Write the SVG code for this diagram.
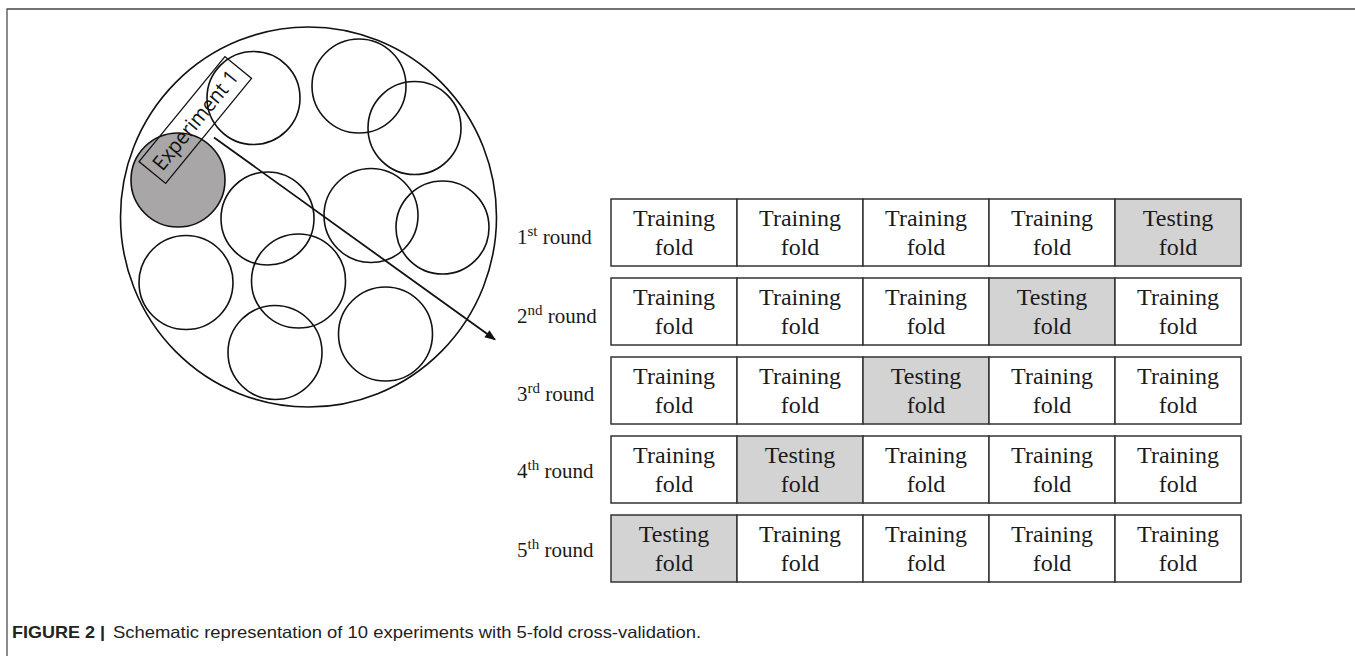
<svg xmlns="http://www.w3.org/2000/svg" width="1355" height="656" viewBox="0 0 1355 656">
<defs>
<style>
.c{fill:none;stroke:#111;stroke-width:1.6}
.cell{fill:#fff;stroke:#333;stroke-width:1.5}
.test{fill:#d3d3d3}
.t{font-family:"Liberation Serif","Times New Roman",serif;font-size:24px;fill:#1a1a1a;text-anchor:middle}
.lbl{font-family:"Liberation Serif","Times New Roman",serif;font-size:21px;fill:#1a1a1a}
.sup{font-size:15px}
</style>
<marker id="ah2" viewBox="0 0 10 10" refX="9" refY="5" markerWidth="13" markerHeight="11" orient="auto" markerUnits="userSpaceOnUse"><path d="M0,1 L10,5 L0,9 Z" fill="#111"/></marker>
</defs>
<rect width="1355" height="656" fill="#fff"/>
<g id="frame">
<line x1="6.5" y1="9" x2="1355" y2="9" stroke="#444" stroke-width="1.5"/>
<line x1="7" y1="9" x2="7" y2="656" stroke="#666" stroke-width="1.5"/>
</g>
<g id="pool">
<ellipse cx="308.5" cy="217" rx="188" ry="190" class="c"/>
<circle cx="178" cy="180" r="47" fill="#a8a6a7" stroke="#111" stroke-width="1.6"/>
<circle cx="253.5" cy="98" r="46.5" class="c"/>
<circle cx="359" cy="86" r="47" class="c"/>
<circle cx="414.5" cy="128" r="46.5" class="c"/>
<circle cx="267.5" cy="218.5" r="46.5" class="c"/>
<circle cx="371" cy="215.5" r="47" class="c"/>
<circle cx="442.5" cy="227.5" r="46.5" class="c"/>
<circle cx="186" cy="282.5" r="47" class="c"/>
<circle cx="298.5" cy="281" r="47" class="c"/>
<circle cx="275" cy="352.5" r="47" class="c"/>
<circle cx="385.5" cy="334" r="47" class="c"/>
</g>
<g id="experiment1" transform="translate(195.3 120) rotate(-50.7)">
<rect x="-67.8" y="-17.2" width="135.6" height="34.4" fill="none" stroke="#111" stroke-width="1.3"/>
<text x="0" y="7.5" text-anchor="middle" font-family="'Open Sans','Liberation Sans',sans-serif" font-size="21" fill="#111" textLength="122" lengthAdjust="spacingAndGlyphs">Experiment 1</text>
</g>
<g id="connectors">
<line x1="214" y1="137.5" x2="495" y2="339.5" stroke="#111" stroke-width="1.8" marker-end="url(#ah2)"/>
</g>
<g id="round1">
<text class="lbl" x="517" y="244">1<tspan class="sup" dy="-8">st</tspan><tspan dy="8"> round</tspan></text>
<rect class="cell" x="611" y="199" width="126" height="67"/>
<rect class="cell" x="737" y="199" width="126" height="67"/>
<rect class="cell" x="863" y="199" width="126" height="67"/>
<rect class="cell" x="989" y="199" width="126" height="67"/>
<rect class="cell test" x="1115" y="199" width="126" height="67"/>
<text class="t" x="674" y="226">Training</text><text class="t" x="674" y="255">fold</text>
<text class="t" x="800" y="226">Training</text><text class="t" x="800" y="255">fold</text>
<text class="t" x="926" y="226">Training</text><text class="t" x="926" y="255">fold</text>
<text class="t" x="1052" y="226">Training</text><text class="t" x="1052" y="255">fold</text>
<text class="t" x="1178" y="226">Testing</text><text class="t" x="1178" y="255">fold</text>
</g>
<g id="round2">
<text class="lbl" x="517" y="323">2<tspan class="sup" dy="-8">nd</tspan><tspan dy="8"> round</tspan></text>
<rect class="cell" x="611" y="278" width="126" height="67"/>
<rect class="cell" x="737" y="278" width="126" height="67"/>
<rect class="cell" x="863" y="278" width="126" height="67"/>
<rect class="cell test" x="989" y="278" width="126" height="67"/>
<rect class="cell" x="1115" y="278" width="126" height="67"/>
<text class="t" x="674" y="305">Training</text><text class="t" x="674" y="334">fold</text>
<text class="t" x="800" y="305">Training</text><text class="t" x="800" y="334">fold</text>
<text class="t" x="926" y="305">Training</text><text class="t" x="926" y="334">fold</text>
<text class="t" x="1052" y="305">Testing</text><text class="t" x="1052" y="334">fold</text>
<text class="t" x="1178" y="305">Training</text><text class="t" x="1178" y="334">fold</text>
</g>
<g id="round3">
<text class="lbl" x="517" y="401">3<tspan class="sup" dy="-8">rd</tspan><tspan dy="8"> round</tspan></text>
<rect class="cell" x="611" y="357" width="126" height="67"/>
<rect class="cell" x="737" y="357" width="126" height="67"/>
<rect class="cell test" x="863" y="357" width="126" height="67"/>
<rect class="cell" x="989" y="357" width="126" height="67"/>
<rect class="cell" x="1115" y="357" width="126" height="67"/>
<text class="t" x="674" y="384">Training</text><text class="t" x="674" y="413">fold</text>
<text class="t" x="800" y="384">Training</text><text class="t" x="800" y="413">fold</text>
<text class="t" x="926" y="384">Testing</text><text class="t" x="926" y="413">fold</text>
<text class="t" x="1052" y="384">Training</text><text class="t" x="1052" y="413">fold</text>
<text class="t" x="1178" y="384">Training</text><text class="t" x="1178" y="413">fold</text>
</g>
<g id="round4">
<text class="lbl" x="517" y="478">4<tspan class="sup" dy="-8">th</tspan><tspan dy="8"> round</tspan></text>
<rect class="cell" x="611" y="436" width="126" height="67"/>
<rect class="cell test" x="737" y="436" width="126" height="67"/>
<rect class="cell" x="863" y="436" width="126" height="67"/>
<rect class="cell" x="989" y="436" width="126" height="67"/>
<rect class="cell" x="1115" y="436" width="126" height="67"/>
<text class="t" x="674" y="463">Training</text><text class="t" x="674" y="492">fold</text>
<text class="t" x="800" y="463">Testing</text><text class="t" x="800" y="492">fold</text>
<text class="t" x="926" y="463">Training</text><text class="t" x="926" y="492">fold</text>
<text class="t" x="1052" y="463">Training</text><text class="t" x="1052" y="492">fold</text>
<text class="t" x="1178" y="463">Training</text><text class="t" x="1178" y="492">fold</text>
</g>
<g id="round5">
<text class="lbl" x="517" y="557">5<tspan class="sup" dy="-8">th</tspan><tspan dy="8"> round</tspan></text>
<rect class="cell test" x="611" y="515" width="126" height="67"/>
<rect class="cell" x="737" y="515" width="126" height="67"/>
<rect class="cell" x="863" y="515" width="126" height="67"/>
<rect class="cell" x="989" y="515" width="126" height="67"/>
<rect class="cell" x="1115" y="515" width="126" height="67"/>
<text class="t" x="674" y="542">Testing</text><text class="t" x="674" y="571">fold</text>
<text class="t" x="800" y="542">Training</text><text class="t" x="800" y="571">fold</text>
<text class="t" x="926" y="542">Training</text><text class="t" x="926" y="571">fold</text>
<text class="t" x="1052" y="542">Training</text><text class="t" x="1052" y="571">fold</text>
<text class="t" x="1178" y="542">Training</text><text class="t" x="1178" y="571">fold</text>
</g>
<g id="caption" font-family="'Liberation Sans',Arial,sans-serif" font-size="16.5" fill="#222">
<text x="12" y="638" font-weight="bold" textLength="93" lengthAdjust="spacingAndGlyphs">FIGURE 2 |</text>
<text x="113" y="638" textLength="588" lengthAdjust="spacingAndGlyphs">Schematic representation of 10 experiments with 5-fold cross-validation.</text>
</g>
</svg>
